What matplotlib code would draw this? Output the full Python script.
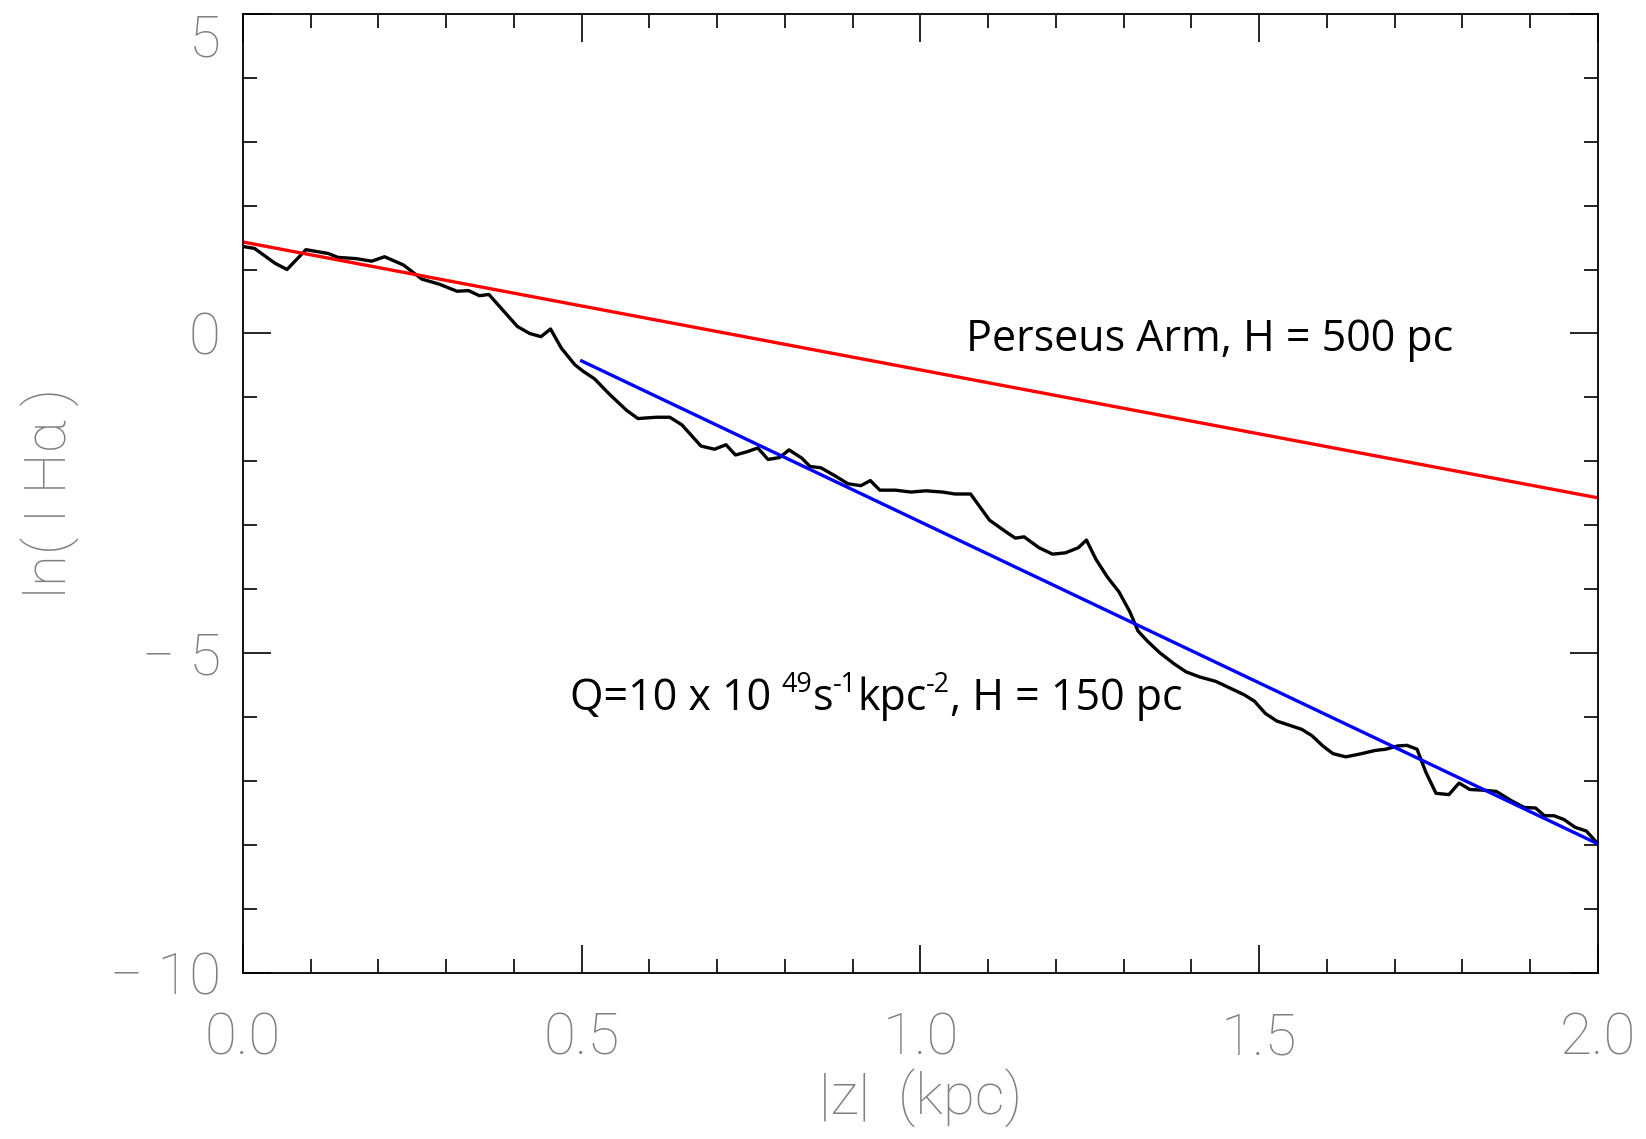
import numpy as np
import matplotlib
matplotlib.use("Agg")
import matplotlib.pyplot as plt
from matplotlib.ticker import MultipleLocator, FixedLocator, FixedFormatter
from matplotlib.transforms import ScaledTranslation, offset_copy

# measured H-alpha profile: |z| in kpc, ln(I_Halpha)
z_obs = [0.0, 0.017, 0.047, 0.065, 0.093, 0.126, 0.14, 0.167, 0.19, 0.209,
         0.237, 0.264, 0.29, 0.316, 0.333, 0.349, 0.363, 0.384, 0.405, 0.423,
         0.44, 0.454, 0.47, 0.49, 0.502, 0.519, 0.541, 0.566, 0.583, 0.61,
         0.63, 0.648, 0.676, 0.696, 0.713, 0.727, 0.744, 0.76, 0.775, 0.792,
         0.806, 0.825, 0.837, 0.853, 0.873, 0.893, 0.912, 0.926, 0.94, 0.963,
         0.986, 1.008, 1.033, 1.051, 1.074, 1.102, 1.126, 1.14, 1.153, 1.175,
         1.195, 1.214, 1.233, 1.245, 1.259, 1.276, 1.293, 1.309, 1.321, 1.335,
         1.353, 1.375, 1.392, 1.412, 1.436, 1.454, 1.478, 1.493, 1.509, 1.526,
         1.543, 1.563, 1.578, 1.594, 1.609, 1.628, 1.651, 1.671, 1.687, 1.704,
         1.718, 1.733, 1.746, 1.761, 1.78, 1.795, 1.811, 1.829, 1.85, 1.873,
         1.891, 1.908, 1.921, 1.935, 1.95, 1.966, 1.983, 2.0]
ln_obs = [1.36, 1.33, 1.10, 1.0, 1.31, 1.25, 1.19, 1.17, 1.13, 1.2,
          1.07, 0.85, 0.77, 0.66, 0.67, 0.59, 0.61, 0.36, 0.11, 0.0,
          -0.05, 0.07, -0.23, -0.49, -0.59, -0.71, -0.95, -1.2, -1.33, -1.31,
          -1.31, -1.43, -1.76, -1.81, -1.74, -1.9, -1.85, -1.79, -1.97, -1.94,
          -1.82, -1.95, -2.08, -2.1, -2.22, -2.35, -2.38, -2.3, -2.45, -2.45,
          -2.48, -2.46, -2.48, -2.51, -2.51, -2.92, -3.1, -3.2, -3.18, -3.35,
          -3.45, -3.43, -3.35, -3.23, -3.53, -3.81, -4.04, -4.35, -4.65, -4.81,
          -4.99, -5.17, -5.29, -5.37, -5.44, -5.53, -5.65, -5.75, -5.94, -6.06,
          -6.12, -6.19, -6.29, -6.45, -6.57, -6.62, -6.57, -6.52, -6.5, -6.45,
          -6.44, -6.5, -6.86, -7.19, -7.21, -7.03, -7.13, -7.14, -7.16, -7.31,
          -7.41, -7.42, -7.54, -7.54, -7.6, -7.72, -7.78, -7.98]

# exponential fits (straight lines in ln space)
perseus_z = [0.0, 2.0]
perseus_ln = [1.43, -2.57]
model_z = [0.5, 2.0]
model_ln = [-0.43, -7.98]

x_ticks = [0.0, 0.5, 1.0, 1.5, 2.0]
x_labels = ["0.0", "0.5", "1.0", "1.5", "2.0"]
y_ticks = [-10, -5, 0, 5]
y_labels = ["\u2212 10", "\u2212 5", "0", "5"]

GREY = "#7f7f7f"

fig = plt.figure(figsize=(16.46, 11.39), dpi=100)
ax = fig.add_axes([0.1476, 0.1457, 0.8232, 0.8423])

ax.plot(z_obs, ln_obs, color="black", lw=2.4)
ax.plot(perseus_z, perseus_ln, color="#ff0000", lw=2.4)
ax.plot(model_z, model_ln, color="#0000ff", lw=2.4)

ax.set_xlim(0, 2)
ax.set_ylim(-10, 5)

ax.xaxis.set_major_locator(FixedLocator(x_ticks))
ax.xaxis.set_major_formatter(FixedFormatter(x_labels))
ax.xaxis.set_minor_locator(MultipleLocator(0.1))
ax.yaxis.set_major_locator(FixedLocator(y_ticks))
ax.yaxis.set_major_formatter(FixedFormatter(y_labels))
ax.yaxis.set_minor_locator(MultipleLocator(1))

ax.tick_params(which="both", direction="in", top=True, right=True,
               color="black", width=1.2)
ax.tick_params(which="major", length=20)
ax.tick_params(which="minor", length=10)
ax.tick_params(axis="x", which="major", pad=28)
ax.tick_params(axis="y", which="major", pad=16)
for lab in ax.get_xticklabels() + ax.get_yticklabels():
    lab.set_family("Roboto")
    lab.set_weight(100)
    lab.set_fontsize(42)
    lab.set_color(GREY)
for s in ax.spines.values():
    s.set_linewidth(1.3)

# keep the top y label inside the figure
fig.canvas.draw()
for lab in ax.get_yticklabels():
    if lab.get_text() == "5":
        lab.set_transform(lab.get_transform()
                          + ScaledTranslation(0, -15 / 72, fig.dpi_scale_trans))

ax.set_xlabel("|z|  (kpc)", family="Roboto", weight=100, fontsize=42,
              color=GREY, labelpad=1)
ax.set_ylabel("ln( I H\u03b1 )", family="Roboto", weight=100, fontsize=42,
              color=GREY, labelpad=22)


def text_runs(x, y, runs, size=31):
    """Draw a line of text made of (string, superscript) runs."""
    tr = ax.transData
    fig.canvas.draw()
    renderer = fig.canvas.get_renderer()
    for s, sup in runs:
        fs = size * 0.62 if sup else size
        dy = size * 0.42 if sup else 0
        t = ax.text(x, y, s, family="Open Sans", fontsize=fs, va="baseline",
                    ha="left", transform=offset_copy(tr, fig=fig, y=dy, units="points"))
        bb = t.get_window_extent(renderer=renderer)
        tr = offset_copy(tr, fig=fig, x=bb.width * 72 / fig.dpi, units="points")


text_runs(1.067, -0.28, [("Perseus Arm, H = 500 pc", False)])
text_runs(0.482, -5.89, [("Q=10 x 10 ", False), ("49", True), ("s", False),
                         ("-1", True), ("kpc", False), ("-2", True),
                         (", H = 150 pc", False)])

fig.savefig("out.png", dpi=100)
